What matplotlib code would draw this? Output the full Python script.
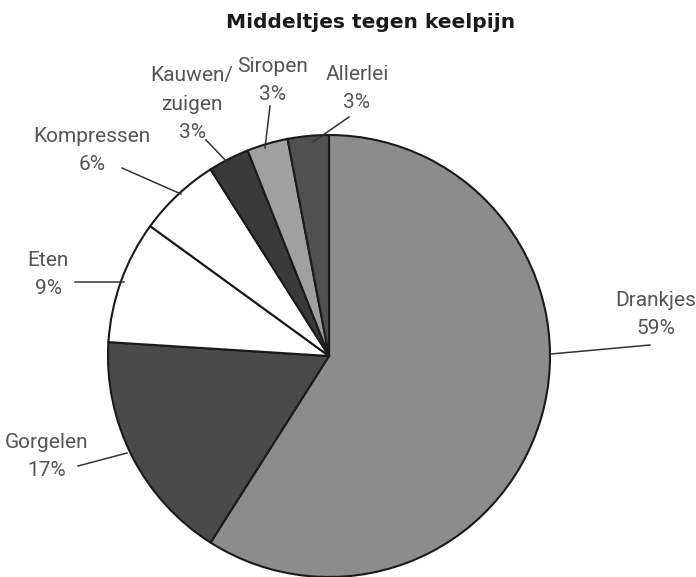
import matplotlib.pyplot as plt

# gegevens
categorieen = ["Drankjes", "Gorgelen", "Eten", "Kompressen", "Kauwen/\nzuigen", "Siropen", "Allerlei"]
percentages = [59, 17, 9, 6, 3, 3, 3]
kleuren = ["#8c8c8c", "#4a4a4a", "#ffffff", "#ffffff", "#3a3a3a", "#a0a0a0", "#505050"]

# label positie (pixels) en lijntjes
label_pos = [(656, 315), (47, 456), (48, 275), (92, 151), (192, 104), (273, 80), (357, 88)]
lijn_van = [(650, 345), (78, 466), (75, 282), (122, 168), (206, 140), (270, 106), (349, 117)]
lijn_tot = [(551, 354), (127, 453), (124, 282), (181, 194), (229, 164), (265, 148), (313, 142)]

W, H = 696, 577

fig = plt.figure(figsize=(W / 100, H / 100), dpi=100)
ax = fig.add_axes([0, 0, 1, 1])

def py(y):
    return H - y

ax.pie(percentages, colors=kleuren, startangle=90, counterclock=False,
       radius=221, center=(329, py(356)), frame=True,
       wedgeprops=dict(edgecolor="#1a1a1a", linewidth=1.5))
ax.set_xlim(0, W)
ax.set_ylim(0, H)
ax.set_aspect("equal")
ax.axis("off")

for naam, p, (lx, ly), (x0, y0), (x1, y1) in zip(categorieen, percentages, label_pos, lijn_van, lijn_tot):
    ax.plot([x0, x1], [py(y0), py(y1)], color="#333333", linewidth=1.1)
    ax.text(lx, py(ly), f"{naam}\n{p}%", ha="center", va="center", fontsize=15,
            family="Roboto", color="#555555", linespacing=1.6)

fig.text(371 / W, 1 - 22 / H, "Middeltjes tegen keelpijn", ha="center", va="center",
         fontsize=14.5, fontweight="bold", color="#1a1a1a")

fig.savefig("out.png", dpi=100)
